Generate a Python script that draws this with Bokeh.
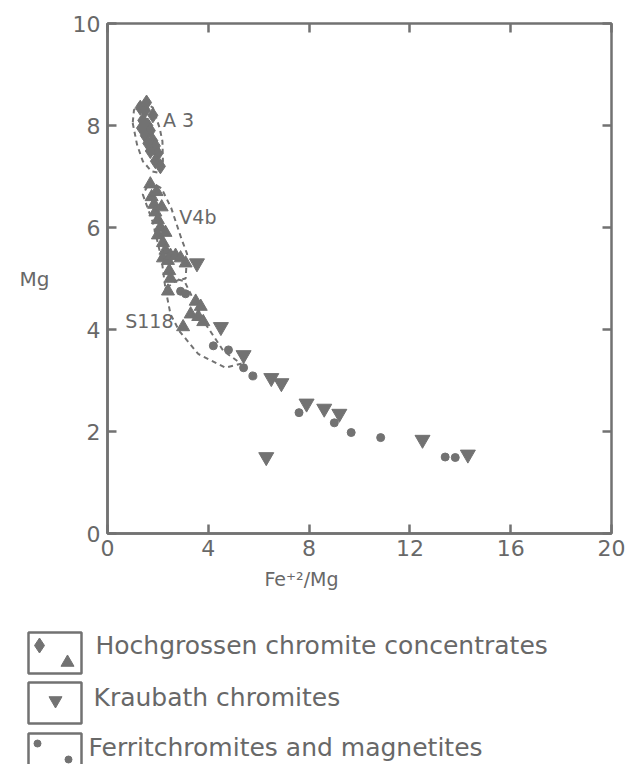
from bokeh.plotting import figure
from bokeh.models import LinearAxis, FixedTicker, CustomLabelingPolicy
from bokeh.layouts import column
from bokeh.embed import file_html
from bokeh.resources import INLINE
from bokeh.core.properties import value

# ---------------- data ----------------
x_ticks = [0, 4, 8, 12, 16, 20]
y_ticks = [0, 2, 4, 6, 8, 10]

# Hochgrossen chromite concentrates: diamonds (A3 field) and triangles
hoch_dia_x = [1.3, 1.5, 1.4, 1.6, 1.7, 1.5, 1.8, 1.9, 1.7, 2.0, 1.9, 2.1, 1.6, 1.8, 1.35, 1.55]
hoch_dia_y = [8.35, 8.3, 8.1, 8.0, 7.9, 7.8, 7.7, 7.6, 7.5, 7.45, 7.3, 7.2, 7.65, 8.2, 7.95, 8.45]
hoch_tri_x = [1.7, 1.75, 1.85, 1.9, 2.0, 2.1, 2.0, 2.2, 2.3, 2.2, 2.4, 2.5, 2.7, 2.9, 3.1, 2.45, 2.5,
              2.4, 3.5, 3.7, 3.6, 3.8, 3.3, 3.0, 2.3, 2.15, 1.95]
hoch_tri_y = [6.85, 6.6, 6.45, 6.3, 6.15, 6.0, 5.85, 5.7, 5.55, 5.4, 5.35, 5.45, 5.45, 5.4, 5.3, 5.15, 5.0,
              4.75, 4.55, 4.45, 4.25, 4.15, 4.3, 4.05, 5.9, 6.4, 6.7]

# Kraubath chromites: inverted triangles
kra_x = [3.55, 4.5, 5.4, 6.5, 6.9, 7.9, 8.6, 9.2, 12.5, 14.3, 6.3]
kra_y = [5.3, 4.05, 3.5, 3.05, 2.95, 2.55, 2.45, 2.35, 1.84, 1.55, 1.5]

# Ferritchromites and magnetites: dots
fer_x = [2.9, 3.1, 4.2, 4.8, 5.4, 5.77, 7.6, 9.0, 9.67, 10.84, 13.4, 13.8]
fer_y = [4.75, 4.7, 3.68, 3.6, 3.25, 3.09, 2.37, 2.17, 1.98, 1.88, 1.5, 1.49]

# dashed sample fields
env_a3_x = [1.0, 1.17, 1.4, 1.75, 2.07, 2.2, 2.18, 2.07, 1.8, 1.35, 1.05]
env_a3_y = [8.05, 7.63, 7.3, 7.1, 7.07, 7.3, 7.69, 7.95, 8.35, 8.5, 8.3]
env_v4b_x = [1.4, 1.8, 2.14, 2.3, 2.7, 3.1, 3.16, 2.92, 2.53, 2.14, 1.7]
env_v4b_y = [6.65, 6.1, 5.4, 4.8, 4.95, 5.0, 5.48, 5.8, 6.38, 6.77, 6.9]
env_s118_x = [2.3, 2.5, 2.85, 3.6, 4.68, 5.3, 4.6, 3.9, 3.4, 3.05, 2.6]
env_s118_y = [4.8, 4.3, 3.97, 3.52, 3.25, 3.33, 3.58, 4.1, 4.6, 4.95, 5.0]

field_names = ["A 3", "V4b", "S118"]
field_x = [2.2, 2.85, 0.7]
field_y = [8.1, 6.2, 4.17]

x_title = "Fe\u207a\u00b2/Mg"
y_title = "Mg"
legend_labels = ["Hochgrossen chromite concentrates", "Kraubath chromites", "Ferritchromites and magnetites"]

# ---------------- style ----------------
GREY = "#727272"
TXT = "#686868"
FONT = "DejaVu Sans"

p = figure(width=626, height=565, x_range=(0, 20), y_range=(0, 10),
           output_backend="svg", toolbar_location=None,
           min_border_left=107, min_border_right=6, min_border_top=23, min_border_bottom=32)
p.grid.visible = False
p.outline_line_color = GREY
p.outline_line_width = 2.5
p.background_fill_color = "white"
p.border_fill_color = "white"

for ax, ticks in ((p.xaxis[0], x_ticks), (p.yaxis[0], y_ticks)):
    ax.ticker = FixedTicker(ticks=ticks)
    ax.axis_line_color = GREY
    ax.axis_line_width = 2.5
    ax.major_tick_line_color = GREY
    ax.major_tick_line_width = 2.5
    ax.major_tick_in = 9
    ax.major_tick_out = 0
    ax.minor_tick_line_color = None
    ax.major_label_text_font = FONT
    ax.major_label_text_font_size = "22px"
    ax.major_label_text_color = TXT
p.xaxis.major_label_standoff = 6
p.yaxis.major_label_standoff = 7
p.yaxis.axis_label = y_title
p.yaxis.axis_label_orientation = "horizontal"
p.yaxis.axis_label_text_font = FONT
p.yaxis.axis_label_text_font_style = "normal"
p.yaxis.axis_label_text_font_size = "20px"
p.yaxis.axis_label_text_color = TXT
p.yaxis.axis_label_standoff = 20

no_labels = CustomLabelingPolicy(code="for (const i of indices) { indices.unset(i) }; return indices")
for loc, ticks in (("right", y_ticks), ("above", x_ticks)):
    a = LinearAxis(ticker=FixedTicker(ticks=ticks), axis_line_color=None,
                   major_tick_line_color=GREY, major_tick_line_width=2.5,
                   major_tick_in=9, major_tick_out=0, minor_tick_line_color=None,
                   major_label_policy=no_labels, major_label_standoff=0)
    p.add_layout(a, loc)

# dashed fields
p.patches([env_a3_x, env_v4b_x, env_s118_x], [env_a3_y, env_v4b_y, env_s118_y],
          fill_alpha=0, line_color=GREY, line_width=2, line_dash="5 4")

# points
p.scatter(hoch_dia_x, hoch_dia_y, marker="diamond", size=15, color=GREY)
p.scatter(hoch_tri_x, hoch_tri_y, marker="triangle", size=13, color=GREY)
p.scatter(kra_x, kra_y, marker="inverted_triangle", size=15, color=GREY)
p.scatter(fer_x, fer_y, marker="circle", size=8, color=GREY)

p.text(field_x, field_y, text=field_names, text_font=value(FONT), text_font_size="19px",
       text_color=TXT, text_baseline="middle", text_align="left")

# ---------------- x title + legend panel ----------------
leg = figure(width=626, height=199, x_range=(0, 626), y_range=(199, 0),
             output_backend="svg", toolbar_location=None,
             x_axis_location=None, y_axis_location=None, min_border=0)
leg.frame_align = False
leg.grid.visible = False
leg.outline_line_color = None

leg.text([301], [13], text=[x_title], text_font=value(FONT), text_font_size="19px",
         text_color=TXT, text_baseline="middle", text_align="center")

box_top = [67, 117, 168]
leg.quad(left=[28] * 3, right=[81] * 3, top=box_top, bottom=[b + 41 for b in box_top],
         fill_alpha=0, line_color=GREY, line_width=2.5)
leg.scatter([39], [80], marker="diamond", size=15, color=GREY)
leg.scatter([67], [97], marker="triangle", size=13, color=GREY)
leg.scatter([55], [135], marker="inverted_triangle", size=13, color=GREY)
leg.scatter([37, 68], [178, 194], marker="circle", size=7, color=GREY)
leg.text([95, 93, 88], [80, 132, 182], text=legend_labels, text_font=value(FONT),
         text_font_size="25px", text_color=TXT, text_baseline="middle", text_align="left")

layout = column(p, leg, spacing=0)
open("out.html", "w").write(file_html(layout, INLINE))
